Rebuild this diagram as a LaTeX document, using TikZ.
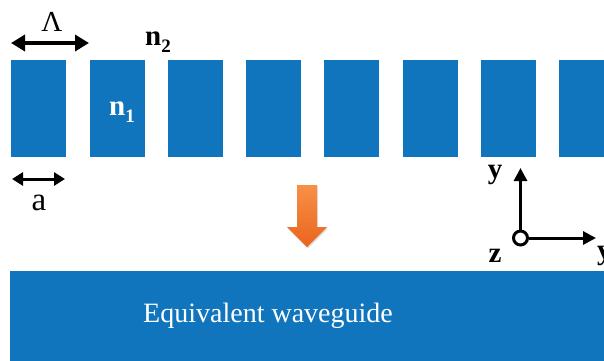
\documentclass[tikz,border=0pt]{standalone}
\usepackage{fontspec}
\setmainfont{Liberation Serif}
\usetikzlibrary{arrows.meta,shadows}
\definecolor{wgblue}{RGB}{16,117,189}
\definecolor{orA}{RGB}{247,145,70}
\definecolor{orB}{RGB}{234,100,30}
\begin{document}
\begin{tikzpicture}[x=1pt,y=-1pt,
  pillar/.style={fill=wgblue, draw=none, minimum width=55pt, minimum height=97pt, inner sep=0pt, anchor=north west},
  dimarrow/.style={line width=3.5pt, {Triangle[length=14pt,width=16pt]}-{Triangle[length=14pt,width=16pt]}},
  smallarrow/.style={line width=3pt, {Triangle[length=11pt,width=13pt]}-{Triangle[length=11pt,width=13pt]}},
  axisarrow/.style={line width=3pt, -{Triangle[length=13pt,width=13pt]}},
  lbl/.style={font=\fontsize{29}{30}\selectfont\bfseries, inner sep=0pt},
  plainlbl/.style={font=\fontsize{29}{30}\selectfont, inner sep=0pt}
]
\useasboundingbox (0,0) rectangle (604,360);
% grating pillars
\foreach \i in {0,...,7}
  \node[pillar] (p\i) at ({11+78.3*\i},60) {};
% period arrow
\coordinate (L1) at (11,43);
\coordinate (L2) at (89,43);
\draw[dimarrow] (L1) -- (L2);
\node[plainlbl, anchor=base] (lam) at (52,31) {Λ};
% width arrow
\coordinate (A1) at (12,179);
\coordinate (A2) at (65,179);
\draw[smallarrow] (A1) -- (A2);
\node[plainlbl, font=\fontsize{33}{34}\selectfont, anchor=base] (alab) at (39,210) {a};
% refractive indices
\node[lbl, anchor=base west] (n2) at (145,45) {n\raisebox{-7pt}{\fontsize{19}{20}\selectfont 2}};
\node[lbl, anchor=base west, text=white] (n1) at (109,115) {n\raisebox{-7pt}{\fontsize{19}{20}\selectfont 1}};
% orange arrow
\path[top color=orA, bottom color=orB, drop shadow={opacity=0.25, shadow xshift=1pt, shadow yshift=-1.5pt}]
  (297,185) -- (317,185) -- (317,227) -- (327,227) -- (307,247) -- (287,227) -- (297,227) -- cycle;
% axes
\node[circle, draw, line width=3pt, minimum size=14pt, inner sep=0pt] (o) at (520.5,238) {};
\coordinate (ytip) at (520.5,168);
\coordinate (xtip) at (596,238);
\draw[axisarrow] (o.north) -- (ytip);
\draw[axisarrow] (o.east) -- (xtip);
\node[lbl, anchor=base] (ylab) at (495,178) {y};
\node[lbl, anchor=base] (zlab) at (495,262) {z};
\node[lbl, anchor=base west] (xlab) at (597,259) {y};
% equivalent waveguide
\node[fill=wgblue, minimum width=600pt, minimum height=90pt, inner sep=0pt, anchor=north west] (wg) at (10,271) {};
\node[text=white, font=\fontsize{28}{30}\selectfont, inner sep=0pt] (wgtext) at (268,316) {Equivalent waveguide};
\end{tikzpicture}
\end{document}
